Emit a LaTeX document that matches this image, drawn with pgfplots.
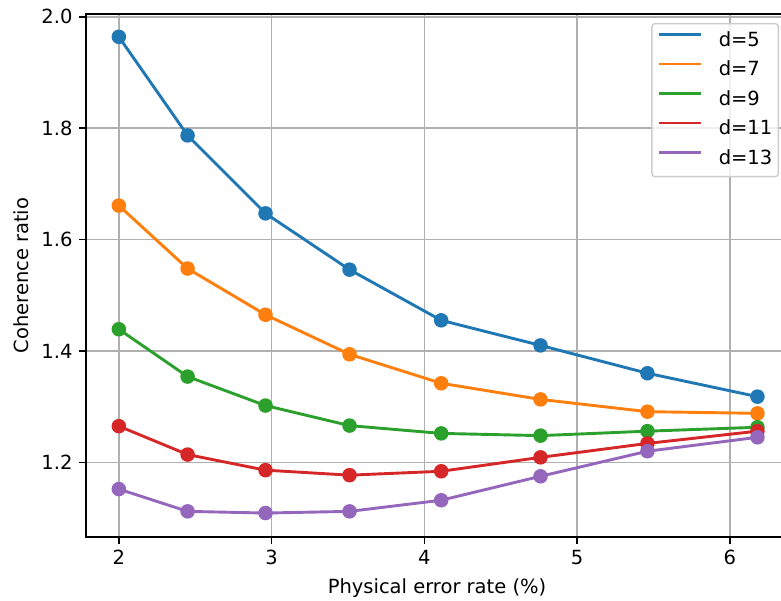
\documentclass[border=0pt]{standalone}
\usepackage{pgfplots}
\pgfplotsset{compat=1.18}
\usepackage{fontspec}
\setmainfont{DejaVu Sans}
\definecolor{mplblue}{HTML}{1F77B4}
\definecolor{mplorange}{HTML}{FF7F0E}
\definecolor{mplgreen}{HTML}{2CA02C}
\definecolor{mplred}{HTML}{D62728}
\definecolor{mplpurple}{HTML}{9467BD}
\begin{document}
\fontsize{19.5}{23}\selectfont
\begin{tikzpicture}
\path[use as bounding box, clip] (-86pt,-64pt) rectangle (695pt,537pt);
\begin{axis}[
  scale only axis, width=702pt, height=523pt,
  xmin=1.785, xmax=6.38, ymin=1.066, ymax=2.005,
  xtick={2,3,4,5,6}, ytick={1.2,1.4,1.6,1.8,2.0},
  yticklabel style={/pgf/number format/fixed,/pgf/number format/fixed zerofill,/pgf/number format/precision=1},
  /pgf/number format/assume math mode=true,
  tick pos=left,
  tick align=outside, tick style={black, line width=1.56pt}, major tick length=6.8pt,
  grid=major, grid style={color=black!31, line width=1.56pt},
  axis line style={line width=1.56pt},
  xlabel={Physical error rate (\%)}, ylabel={Coherence ratio},
  ticklabel style={font=\fontsize{19.5}{23}\selectfont},
  label style={font=\fontsize{19.5}{23}\selectfont},
  legend style={font=\fontsize{19.5}{23}\selectfont, draw=black!20, line width=1.4pt, fill=white, fill opacity=0.8, text opacity=1, rounded corners=3pt,
     at={(rel axis cs:1,1)}, xshift=-9pt, yshift=-9pt, anchor=north east,
     inner xsep=6pt, inner ysep=7.6pt, row sep=9.75pt, column sep=16pt,
     nodes={inner sep=0pt, text height=15pt, text depth=4.75pt}},
  legend cell align=left,
  legend image code/.code={\draw[#1, mark=none, line width=2.9pt] (0pt,6.7pt) -- (42pt,6.7pt);},
  every axis plot/.append style={line width=2.9pt, mark=*, mark size=5.8pt},
]
\addplot[mplblue, mark options={fill=mplblue, draw=mplblue}] coordinates {(2.0,1.964) (2.45,1.787) (2.96,1.647) (3.51,1.546) (4.11,1.455) (4.76,1.410) (5.46,1.360) (6.18,1.318)};
\addlegendentry{d=5}
\addplot[mplorange, mark options={fill=mplorange, draw=mplorange}] coordinates {(2.0,1.661) (2.45,1.548) (2.96,1.465) (3.51,1.394) (4.11,1.342) (4.76,1.313) (5.46,1.291) (6.18,1.288)};
\addlegendentry{d=7}
\addplot[mplgreen, mark options={fill=mplgreen, draw=mplgreen}] coordinates {(2.0,1.439) (2.45,1.354) (2.96,1.302) (3.51,1.266) (4.11,1.252) (4.76,1.248) (5.46,1.256) (6.18,1.263)};
\addlegendentry{d=9}
\addplot[mplred, mark options={fill=mplred, draw=mplred}] coordinates {(2.0,1.265) (2.45,1.214) (2.96,1.186) (3.51,1.177) (4.11,1.184) (4.76,1.209) (5.46,1.234) (6.18,1.256)};
\addlegendentry{d=11}
\addplot[mplpurple, mark options={fill=mplpurple, draw=mplpurple}] coordinates {(2.0,1.152) (2.45,1.112) (2.96,1.109) (3.51,1.112) (4.11,1.132) (4.76,1.175) (5.46,1.220) (6.18,1.245)};
\addlegendentry{d=13}
\end{axis}
\end{tikzpicture}
\end{document}
